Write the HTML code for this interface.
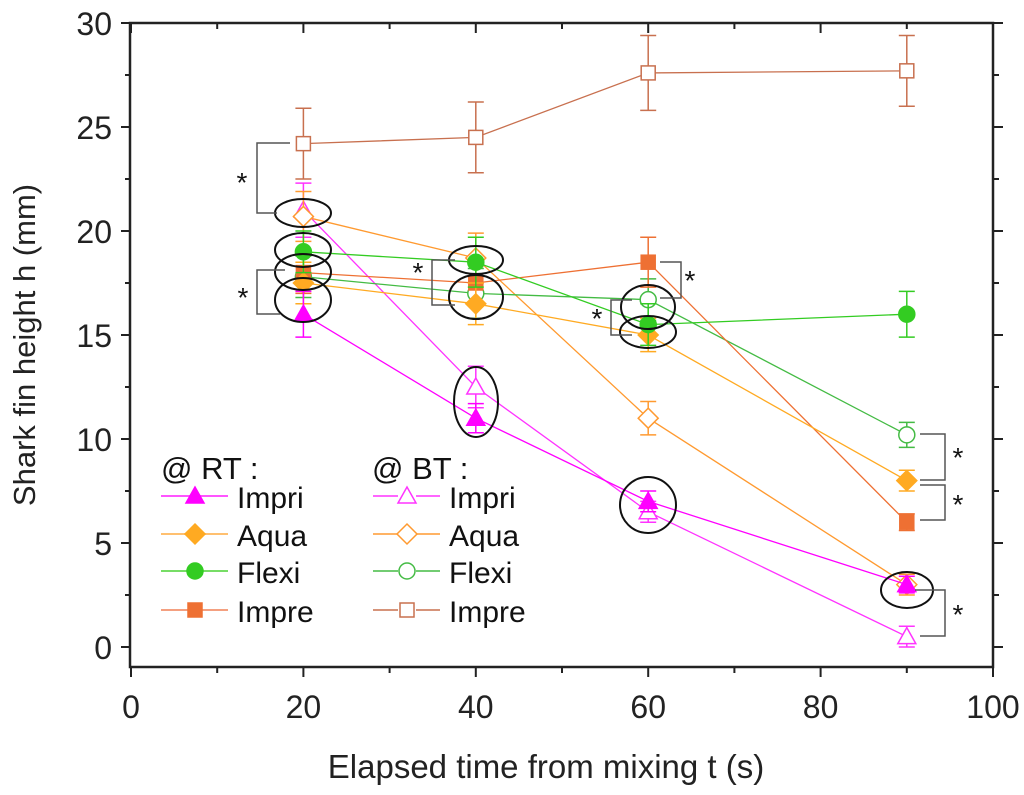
<!DOCTYPE html>
<html><head><meta charset="utf-8"><style>
body{margin:0;background:#fff;width:1024px;height:790px;overflow:hidden}
svg{font-family:"Liberation Sans",Arial,sans-serif}
</style></head><body>
<svg id="chart" width="1024" height="790" viewBox="0 0 1024 790"></svg>
<script>
const times=[20,40,60,90];
const rtImpri=[16,11,7,3];
const rtAqua=[17.5,16.5,15,8];
const rtFlexi=[19,18.5,15.5,16];
const rtImpre=[18,17.5,18.5,6];
const btImpri=[21,12.5,6.5,0.5];
const btAqua=[20.7,18.7,11,3];
const btFlexi=[17.8,17,16.7,10.2];
const btImpre=[24.2,24.5,27.6,27.7];
const errRtImpri=[1.1,0.7,0.5,0.4];
const errRtAqua=[1,1,0.8,0.5];
const errRtFlexi=[1,1.2,1,1.1];
const errRtImpre=[1,1,1.2,0.4];
const errBtImpri=[1.3,1,0.5,0.5];
const errBtAqua=[1.2,1.2,0.8,0.5];
const errBtFlexi=[1,1.2,1,0.6];
const errBtImpre=[1.7,1.7,1.8,1.7];
const xTicks=[0,20,40,60,80,100];
const yTicks=[0,5,10,15,20,25,30];

const NS="http://www.w3.org/2000/svg";
const svg=document.getElementById('chart');
const X0=131,X1=993,Y0=647,YT=23;
function sx(v){return X0+(X1-X0)*v/100;}
function sy(v){return Y0-(Y0-YT)*v/30;}
function mk(tag,attrs,parent){const e=document.createElementNS(NS,tag);for(const k in attrs)e.setAttribute(k,attrs[k]);(parent||svg).appendChild(e);return e;}

const frame=mk('rect',{x:X0-1,y:YT,width:X1-X0+1,height:667-YT,fill:'none',stroke:'#222','stroke-width':2.5});


for(let i=0;i<=10;i++){const v=i*10;const len=(i%2==0)?10:6;
 const t1=mk('line',{x1:sx(v),x2:sx(v),y1:667,y2:667+len,stroke:'#222','stroke-width':2});
 
 const t2=mk('line',{x1:sx(v),x2:sx(v),y1:YT,y2:YT+len,stroke:'#222','stroke-width':2});
 }
xTicks.forEach(v=>{const t=mk('text',{x:sx(v),y:718,'font-size':32,'text-anchor':'middle',fill:'#222'});t.textContent=v;
 });
for(let i=0;i<=12;i++){const v=i*2.5;const len=(i%2==0)?10:6;
 const t1=mk('line',{x1:X0-len,x2:X0,y1:sy(v),y2:sy(v),stroke:'#222','stroke-width':2});
 
 const t2=mk('line',{x1:X1,x2:X1+len,y1:sy(v),y2:sy(v),stroke:'#222','stroke-width':2});
 }
yTicks.forEach(v=>{const t=mk('text',{x:112,y:sy(v)+12,'font-size':32,'text-anchor':'end',fill:'#222'});t.textContent=v;
 });
const xt=mk('text',{x:546,y:778,'font-size':33,'text-anchor':'middle',fill:'#222'});xt.textContent='Elapsed time from mixing t (s)';

const yt=mk('text',{x:0,y:0,'font-size':31,'text-anchor':'middle',fill:'#222',transform:'translate(35,345) rotate(-90)'});yt.textContent='Shark fin height h (mm)';


function marker(shape,filled,color,cx,cy,g){
 const f=filled?color:'#fff';
 if(shape==='tri')return mk('polygon',{points:`${cx},${cy-9} ${cx-9},${cy+7} ${cx+9},${cy+7}`,fill:f,stroke:color,'stroke-width':1.5},g);
 if(shape==='dia')return mk('polygon',{points:`${cx},${cy-10} ${cx+10},${cy} ${cx},${cy+10} ${cx-10},${cy}`,fill:f,stroke:color,'stroke-width':1.5},g);
 if(shape==='cir')return mk('circle',{cx:cx,cy:cy,r:8,fill:f,stroke:color,'stroke-width':1.5},g);
 return mk('rect',{x:cx-7,y:cy-7,width:14,height:14,fill:f,stroke:color,'stroke-width':1.5},g);
}
const series=[
 ['bt-impre',btImpre,errBtImpre,'sq',false,'#c8704f'],
 ['bt-impri',btImpri,errBtImpri,'tri',false,'#ff33ff'],
 ['bt-aqua',btAqua,errBtAqua,'dia',false,'#ff9a30'],
 ['bt-flexi',btFlexi,errBtFlexi,'cir',false,'#44bb44'],
 ['rt-impre',rtImpre,errRtImpre,'sq',true,'#ee7033'],
 ['rt-aqua',rtAqua,errRtAqua,'dia',true,'#ffaa22'],
 ['rt-flexi',rtFlexi,errRtFlexi,'cir',true,'#33cc22'],
 ['rt-impri',rtImpri,errRtImpri,'tri',true,'#ff00ff'],
];
series.forEach(([name,vals,errs,shape,filled,color])=>{
 const g=mk('g',{});
 
 
 const pts=vals.map((v,i)=>`${sx(times[i])},${sy(v)}`).join(' ');
 const ln=mk('polyline',{points:pts,fill:'none',stroke:color,'stroke-width':1.3},g);
 
 
 vals.forEach((v,i)=>{const cx=sx(times[i]);
  const eb=mk('path',{d:`M${cx},${sy(v+errs[i])}V${sy(v-errs[i])}M${cx-8},${sy(v+errs[i])}h16M${cx-8},${sy(v-errs[i])}h16`,stroke:color,'stroke-width':1.5,fill:'none'},g);
  
  
  const m=marker(shape,filled,color,cx,sy(v),g);
  
  
 });
});
[[303,213,28,14],[303,250,28,17],[303,272,28,18],[303,300,28,22],[476,260,27,14],[476,297,27,22],[476,402,22,35],[648,307,27,22],[648,332,28,16],[648,505,28,28],[907,590,26,18]].forEach(e=>{
 const el=mk('ellipse',{cx:e[0],cy:e[1],rx:e[2],ry:e[3],fill:'none',stroke:'#111','stroke-width':2});
 });
[[`M290,143H257V213H277`,242,192],[`M285,270H257V314H280`,243,307],[`M455,260H432V305H455`,418,282],[`M660,262H681V298H660`,690,290],[`M632,300H611V335H632`,597,328],[`M920,434H945V480H920`,958,467],[`M920,485H945V520H920`,958,514],[`M915,590H945V636H920`,958,624]].forEach(b=>{
 const p=mk('path',{d:b[0],fill:'none',stroke:'#555','stroke-width':1.5});
 
 const s=mk('text',{x:b[1],y:b[2],'font-size':28,'text-anchor':'middle',fill:'#111'});s.textContent='*';
 });
const lg=mk('g',{});
const h1=mk('text',{x:161,y:479,'font-size':31,fill:'#111'},lg);h1.textContent='@ RT :';

const h2=mk('text',{x:372,y:479,'font-size':31,fill:'#111'},lg);h2.textContent='@ BT :';

const names=['Impri','Aqua','Flexi','Impre'];
const shapes=['tri','dia','cir','sq'];
const rtC=['#ff00ff','#ffaa22','#33cc22','#ee7033'],rtL=['#ff55ff','#ffc070','#77dd66','#f4a080'];
const btC=['#ff33ff','#ff9a30','#44bb44','#c8704f'];
names.forEach((n,i)=>{const y=[497,535,572,611][i];
 const e1=mk('g',{},lg);
 mk('line',{x1:161,x2:228,y1:y-1,y2:y-1,stroke:rtL[i],'stroke-width':2},e1);
 marker(shapes[i],true,rtC[i],195,y-1,e1);
 const t1=mk('text',{x:237,y:y+11,'font-size':30,fill:'#111'},e1);t1.textContent=n;
 const e2=mk('g',{},lg);
 mk('line',{x1:373,x2:398,y1:y-1,y2:y-1,stroke:btC[i],'stroke-width':1.5},e2);
 mk('line',{x1:416,x2:440,y1:y-1,y2:y-1,stroke:btC[i],'stroke-width':1.5},e2);
 marker(shapes[i],false,btC[i],407,y-1,e2);
 const t2=mk('text',{x:449,y:y+11,'font-size':30,fill:'#111'},e2);t2.textContent=n;
});
</script>
</body></html>
